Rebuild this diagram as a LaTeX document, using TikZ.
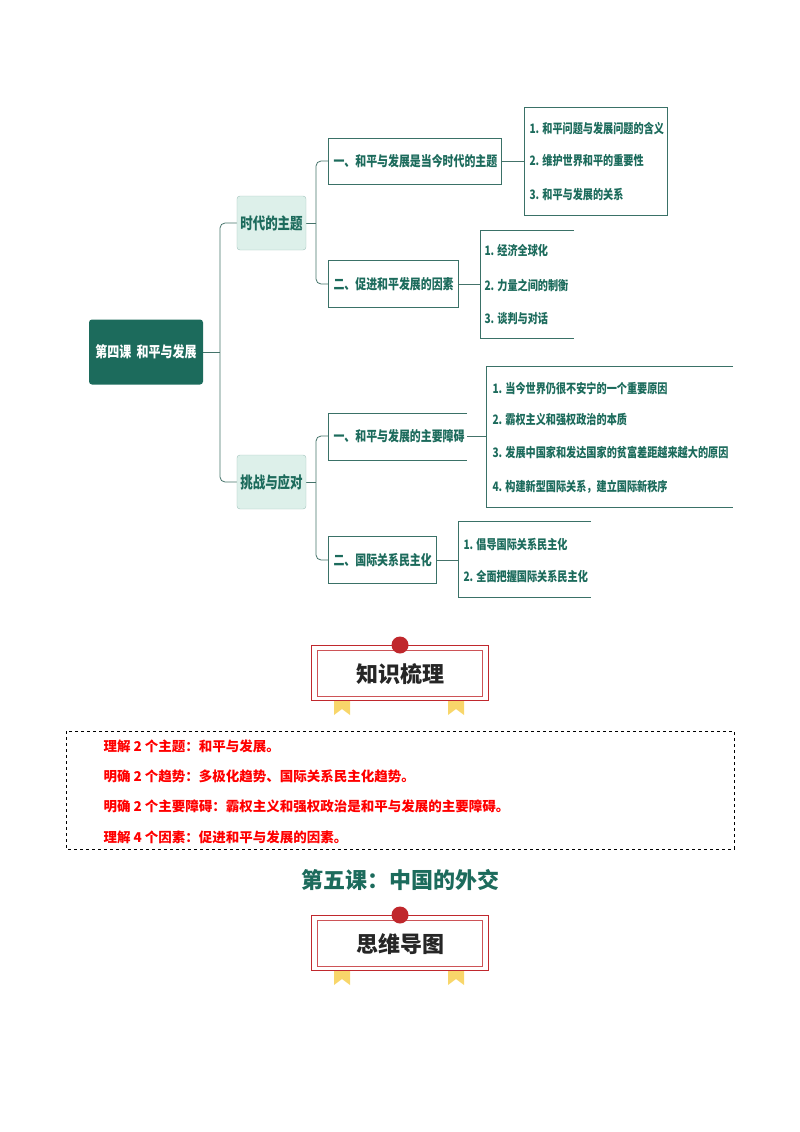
\documentclass[tikz,border=0pt]{standalone}
\usepackage{fontspec}
\setmainfont{Noto Sans CJK SC}
\definecolor{dg}{HTML}{1C6B5C}
\definecolor{mint}{HTML}{DDF0EA}
\definecolor{rd}{HTML}{C0282D}
\definecolor{yl}{HTML}{F8D66A}
\newcommand{\cz}[1]{\scalebox{0.78}[1]{#1}}
\begin{document}
\begin{tikzpicture}[x=1pt,y=-1pt,
 box/.style={draw=dg!70!gray,line width=0.6pt,fill=white,inner sep=0},
 txt/.style={text=dg,font=\bfseries\fontsize{14}{16}\selectfont,anchor=west},
 ltxt/.style={text=dg,font=\bfseries\fontsize{13}{15}\selectfont,anchor=west},
 con/.style={draw=dg!60!gray,line width=0.8pt,rounded corners=5pt},
 rtxt/.style={text=red,font=\bfseries\fontsize{13.5}{15}\selectfont,anchor=west}]
\useasboundingbox (0,0) rectangle (800,1132);
% connectors
\coordinate (rootr) at (203,352);
\draw[con] (rootr) -- (220,352);
\draw[con] (237,223) -- (220,223) -- (220,482) -- (237,482);
\draw[con] (306,223) -- (316,223);
\draw[con] (328,161) -- (316,161) -- (316,284) -- (328,284);
\draw[con] (306,482) -- (316,482);
\draw[con] (328,436) -- (316,436) -- (316,560) -- (328,560);
\draw[con] (501,161) -- (524,161);
\draw[con] (458,284) -- (480,284);
\draw[con] (467,436) -- (486,436);
\draw[con] (436,560) -- (458,560);
% root
\node[fill=dg,rounded corners=3pt,minimum width=114pt,minimum height=65pt,text=white,font=\bfseries\fontsize{15}{17}\selectfont] (root) at (146,352) {\scalebox{0.8}[1]{第四课\ \ 和平与发展}};
\node[draw=dg!40,fill=mint,rounded corners=3pt,minimum width=69pt,minimum height=54pt,text=dg,font=\bfseries\fontsize{16}{18}\selectfont] (b1) at (271.5,223) {\cz{时代的主题}};
\node[draw=dg!40,fill=mint,rounded corners=3pt,minimum width=69pt,minimum height=54pt,text=dg,font=\bfseries\fontsize{16}{18}\selectfont] (b2) at (271.5,482) {\cz{挑战与应对}};
% level 2
\draw[box] (328,138) rectangle (501,184);
\node[txt] (s1) at (330,161) {\cz{一、和平与发展是当今时代的主题}};
\draw[box] (328,260) rectangle (458,307);
\node[txt] (s2) at (330,284) {\cz{二、促进和平发展的因素}};
\draw[box] (467,413) -- (328,413) -- (328,460) -- (467,460);
\node[txt] (s3) at (330,436) {\cz{一、和平与发展的主要障碍}};
\draw[box] (328,536) rectangle (436,583);
\node[txt] (s4) at (330,560) {\cz{二、国际关系民主化}};
% leaves
\draw[box] (524,107) rectangle (667,215);
\node[ltxt] (l11) at (526,129) {\cz{1. 和平问题与发展问题的含义}};
\node[ltxt] (l12) at (526,161) {\cz{2. 维护世界和平的重要性}};
\node[ltxt] (l13) at (526,195) {\cz{3. 和平与发展的关系}};
\draw[box] (574,230) -- (480,230) -- (480,338) -- (574,338);
\node[ltxt] (l21) at (481,251) {\cz{1. 经济全球化}};
\node[ltxt] (l22) at (481,285) {\cz{2. 力量之间的制衡}};
\node[ltxt] (l23) at (481,319) {\cz{3. 谈判与对话}};
\draw[box] (733,366) -- (486,366) -- (486,507) -- (733,507);
\node[ltxt] (l31) at (489,389) {\cz{1. 当今世界仍很不安宁的一个重要原因}};
\node[ltxt] (l32) at (489,420) {\cz{2. 霸权主义和强权政治的本质}};
\node[ltxt] (l33) at (489,453) {\cz{3. 发展中国家和发达国家的贫富差距越来越大的原因}};
\node[ltxt] (l34) at (489,487) {\cz{4. 构建新型国际关系，建立国际新秩序}};
\draw[box] (591,521) -- (458,521) -- (458,597) -- (591,597);
\node[ltxt] (l41) at (460,545) {\cz{1. 倡导国际关系民主化}};
\node[ltxt] (l42) at (460,577) {\cz{2. 全面把握国际关系民主化}};
% banners
\foreach \yy/\lab in {645/知识梳理,915/思维导图}{
 \fill[yl] (334,\yy+48) -- (350,\yy+48) -- (350,\yy+70) -- (342,\yy+64) -- (334,\yy+70) -- cycle;
 \fill[yl] (448,\yy+48) -- (464,\yy+48) -- (464,\yy+70) -- (456,\yy+64) -- (448,\yy+70) -- cycle;
 \draw[rd,line width=1pt,fill=white] (311,\yy) rectangle (488,\yy+55);
 \draw[rd!80,line width=0.6pt] (317,\yy+5) rectangle (482,\yy+51);
 \fill[rd] (400,\yy) circle (8.5);
 \node[font=\bfseries\fontsize{22}{24}\selectfont,text=black!85] at (400,\yy+29) {\lab};
}
% dashed box
\draw[dashed,line width=0.6pt] (66,731) rectangle (734,849);
\node[rtxt] (r1) at (100,746) {理解 2 个主题：和平与发展。};
\node[rtxt] (r2) at (100,776) {明确 2 个趋势：多极化趋势、国际关系民主化趋势。};
\node[rtxt] (r3) at (100,806) {明确 2 个主要障碍：霸权主义和强权政治是和平与发展的主要障碍。};
\node[rtxt] (r4) at (100,837) {理解 4 个因素：促进和平与发展的因素。};
\node[text=dg,font=\bfseries\fontsize{22}{24}\selectfont] (t5) at (400,880) {第五课：中国的外交};
\end{tikzpicture}
\end{document}
